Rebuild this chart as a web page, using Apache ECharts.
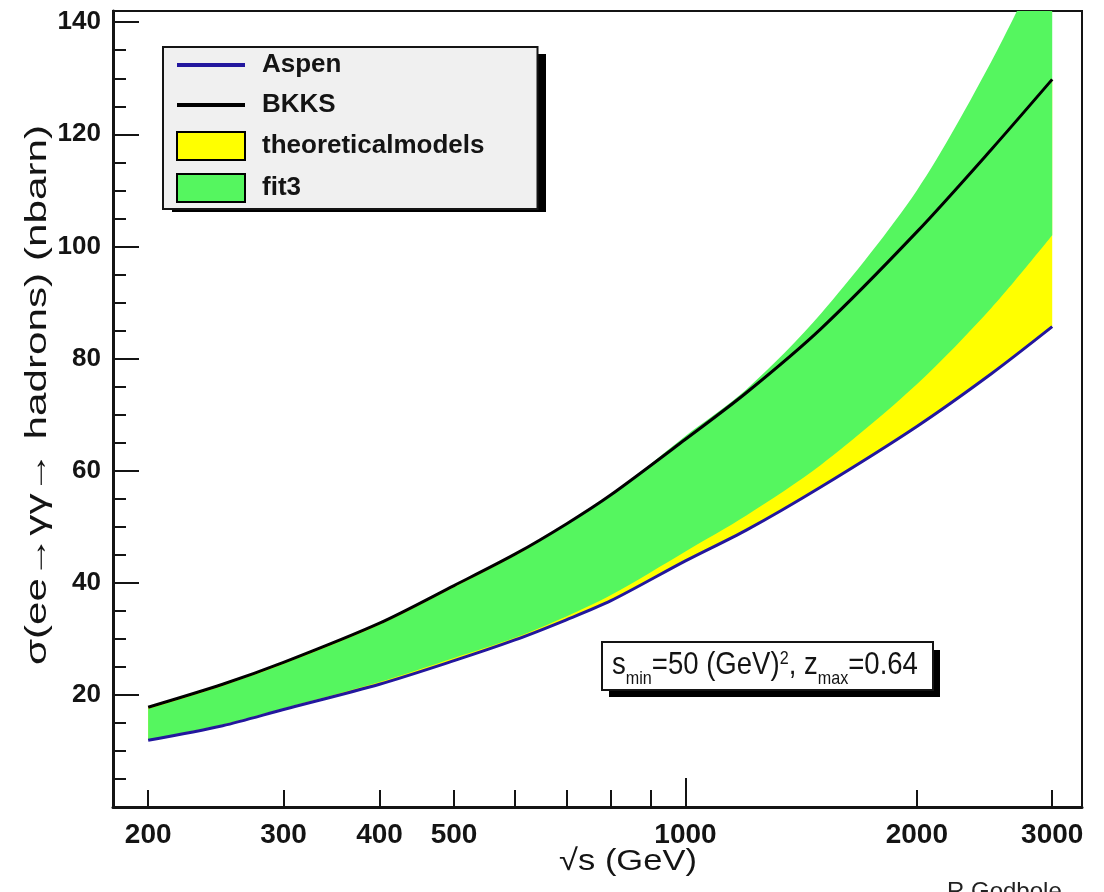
<!DOCTYPE html>
<html><head><meta charset="utf-8">
<script src="https://cdn.jsdelivr.net/npm/echarts@6/dist/echarts.min.js"></script>
<style>html,body{margin:0;padding:0;background:#fff}#c{width:1104px;height:892px}</style>
</head><body><div id="c"></div>
<script>
// ---- data ----
const energies = [200, 250, 300, 400, 500, 600, 700, 800, 1000, 1200, 1500, 2000, 2500, 3000];
const aspen    = [11.9, 14.5, 17.4, 21.9, 26.1, 29.8, 33.4, 36.8, 43.9, 49.4, 57.1, 67.9, 77.3, 85.7];
const bkks     = [17.8, 21.9, 25.8, 32.8, 39.5, 45.1, 50.5, 55.7, 65.6, 73.9, 85.3, 102.6, 117.3, 129.8];
const fit3Low  = [12.0, 14.7, 17.6, 22.3, 26.6, 30.2, 34.0, 37.8, 45.6, 52.0, 61.0, 75.4, 89.0, 102.0];
const fit3High = [17.5, 21.6, 25.5, 32.5, 39.2, 44.8, 50.3, 55.6, 66.2, 74.5, 88.0, 110.0, 133.0, 155.0];
const xLabelValues = [200, 300, 400, 500, 1000, 2000, 3000];
const xTickValues  = [200, 300, 400, 500, 600, 700, 800, 900, 1000, 2000, 3000];
const xLongTick    = [1000];
const yMajorValues = [20, 40, 60, 80, 100, 120, 140];
const yMinorValues = [5, 10, 15, 25, 30, 35, 45, 50, 55, 65, 70, 75, 85, 90, 95, 105, 110, 115, 125, 130, 135];

// rows are [y, x] so that stacking acts on the y value (encode maps them back)
const rows = (xs, ys) => xs.map((x, i) => [ys[i], x]);
const diff = (a, b) => a.map((v, i) => +(v - b[i]).toFixed(3));

const SANS = '"Liberation Sans", Arial, Helvetica, sans-serif';
const INK = '#141414';
const YELLOW = '#ffff00';
const GREEN = '#55f65f';
const BLUE = '#23179e';

const chart = echarts.init(document.getElementById('c'), null, {renderer: 'canvas'});

// text measurement helper
const mctx = document.createElement('canvas').getContext('2d');
function textWidth(t, font) { mctx.font = font; return mctx.measureText(t).width; }

// lay out sub/superscript segments
function segs(x0, base, parts) {
  const out = [];
  let x = x0;
  parts.forEach(p => {
    const font = 'normal ' + p.size + 'px ' + SANS;
    const w = textWidth(p.t, font) * 0.95;
    out.push({type: 'text', x: x, y: base + (p.dy || 0), z: 120, scaleX: 0.95, scaleY: 1.08,
      style: {text: p.t, fill: INK, font: font, textAlign: 'left', textVerticalAlign: 'bottom'}});
    x += w;
  });
  return out;
}

// rotated axis title stretched to span [yTop, yBottom]
function vtitle(t, x, yBottom, yTop, size) {
  const font = 'normal ' + size + 'px ' + SANS;
  const w = textWidth(t, font);
  return {type: 'text', x: x, y: (yBottom + yTop) / 2, rotation: Math.PI / 2, scaleX: (yBottom - yTop) / w, z: 100,
    style: {text: t, font: font, fill: INK, textAlign: 'center', textVerticalAlign: 'middle'}};
}

const lineCommon = {type: 'line', symbol: 'none', smooth: 0.3, encode: {x: 1, y: 0}};
const base = (name, stack, ys, z) => Object.assign({}, lineCommon, {
  name: name, stack: stack, data: rows(energies, ys), z: z, silent: true,
  lineStyle: {width: 0, opacity: 0}, itemStyle: {opacity: 0}
});
const band = (name, stack, ys, color, z) => Object.assign({}, lineCommon, {
  name: name, stack: stack, data: rows(energies, ys), z: z, silent: true,
  lineStyle: {width: 0, opacity: 0}, itemStyle: {color: color},
  areaStyle: {color: color, opacity: 1}
});

const option = {
  animation: false,
  backgroundColor: '#fff',
  grid: {left: 113, top: 11, right: 22, bottom: 85, show: true, borderColor: INK, borderWidth: 2, backgroundColor: 'transparent'},
  legend: {
    orient: 'vertical', left: 163, top: 47, z: 20,
    backgroundColor: '#f0f0f0', borderColor: INK, borderWidth: 2,
    padding: [4, 53, 6, 13],
    itemWidth: 68, itemHeight: 28, itemGap: 12,
    textStyle: {fontFamily: SANS, fontWeight: 'bold', fontSize: 26, lineHeight: 28, color: INK, padding: [0, 0, 0, 12]},
    selectedMode: false,
    data: [
      {name: 'Aspen', icon: 'path://M0,0 L68,0 L68,4 L0,4 Z', itemStyle: {color: BLUE}},
      {name: 'BKKS', icon: 'path://M0,0 L68,0 L68,4 L0,4 Z', itemStyle: {color: '#000'}},
      {name: 'theoreticalmodels', icon: 'rect', itemStyle: {color: YELLOW, borderColor: '#000', borderWidth: 2}},
      {name: 'fit3', icon: 'rect', itemStyle: {color: GREEN, borderColor: '#000', borderWidth: 2}}
    ]
  },
  xAxis: [{
    type: 'log', logBase: 10, min: 180, max: 3280, z: 10,
    axisLine: {show: true, lineStyle: {color: INK, width: 3}},
    axisTick: {show: true, inside: true, length: 17, customValues: xTickValues, lineStyle: {color: INK, width: 2}},
    axisLabel: {show: true, customValues: xLabelValues, margin: 14, fontFamily: SANS, fontWeight: 'bold', fontSize: 28, color: INK,
                formatter: v => String(Math.round(v))},
    splitLine: {show: false}, minorTick: {show: false}
  }, {
    type: 'log', logBase: 10, min: 180, max: 3280, position: 'bottom', z: 10,
    axisLine: {show: false},
    axisTick: {show: true, inside: true, length: 29, customValues: xLongTick, lineStyle: {color: INK, width: 2}},
    axisLabel: {show: false}, splitLine: {show: false}
  }],
  yAxis: [{
    type: 'value', min: 0, max: 142, z: 10,
    axisLine: {show: true, lineStyle: {color: INK, width: 3}},
    axisTick: {show: true, inside: true, length: 26, customValues: yMajorValues, lineStyle: {color: INK, width: 2}},
    axisLabel: {show: true, customValues: yMajorValues, margin: 12, fontFamily: SANS, fontWeight: 'bold', fontSize: 26, color: INK},
    splitLine: {show: false}
  }, {
    type: 'value', min: 0, max: 142, position: 'left', z: 10,
    axisLine: {show: false},
    axisTick: {show: true, inside: true, length: 13, customValues: yMinorValues, lineStyle: {color: INK, width: 2}},
    axisLabel: {show: false}, splitLine: {show: false}
  }],
  series: [
    // theoretical-model band [Aspen, BKKS]
    base('tmBase', 'tm', aspen, 1),
    band('theoreticalmodels', 'tm', diff(bkks, aspen), YELLOW, 1),
    // fit3 band [fit3Low, fit3High]
    base('fitBase', 'fit', fit3Low, 2),
    band('fit3', 'fit', diff(fit3High, fit3Low), GREEN, 2),
    Object.assign({}, lineCommon, {name: 'Aspen', data: rows(energies, aspen), z: 5,
      lineStyle: {color: BLUE, width: 3}, itemStyle: {color: BLUE}}),
    Object.assign({}, lineCommon, {name: 'BKKS', data: rows(energies, bkks), z: 5,
      lineStyle: {color: '#000', width: 3}, itemStyle: {color: '#000'}})
  ],
  graphic: [
    // legend drop shadow
    {type: 'rect', shape: {x: 172, y: 54, width: 374, height: 158}, style: {fill: '#000'}, z: 15},
    // y axis title
    vtitle('σ(ee→γγ→ hadrons) (nbarn)', 38, 665, 125, 30),
    // x axis title
    {type: 'text', x: 628, y: 862, scaleX: 1.15, z: 100,
     style: {text: '√s (GeV)', font: 'normal 30px ' + SANS, fill: INK, textAlign: 'center', textVerticalAlign: 'middle'}},
    // credit, cut by the bottom edge
    {type: 'text', x: 947, y: 880, z: 100,
     style: {text: 'R.Godbole', font: 'normal 24px ' + SANS, fill: '#222', textAlign: 'left', textVerticalAlign: 'top'}},
    // annotation box
    {type: 'rect', shape: {x: 609, y: 650, width: 331, height: 47}, style: {fill: '#000'}, z: 110},
    {type: 'rect', shape: {x: 602, y: 642, width: 331, height: 48}, style: {fill: '#fff', stroke: INK, lineWidth: 2}, z: 111},
    ...segs(612, 681, [
      {t: 's', size: 29}, {t: 'min', size: 17, dy: 7}, {t: '=50 (GeV)', size: 29}, {t: '2', size: 17, dy: -13},
      {t: ', z', size: 29}, {t: 'max', size: 17, dy: 7}, {t: '=0.64', size: 29}
    ])
  ]
};
chart.setOption(option);
</script></body></html>
